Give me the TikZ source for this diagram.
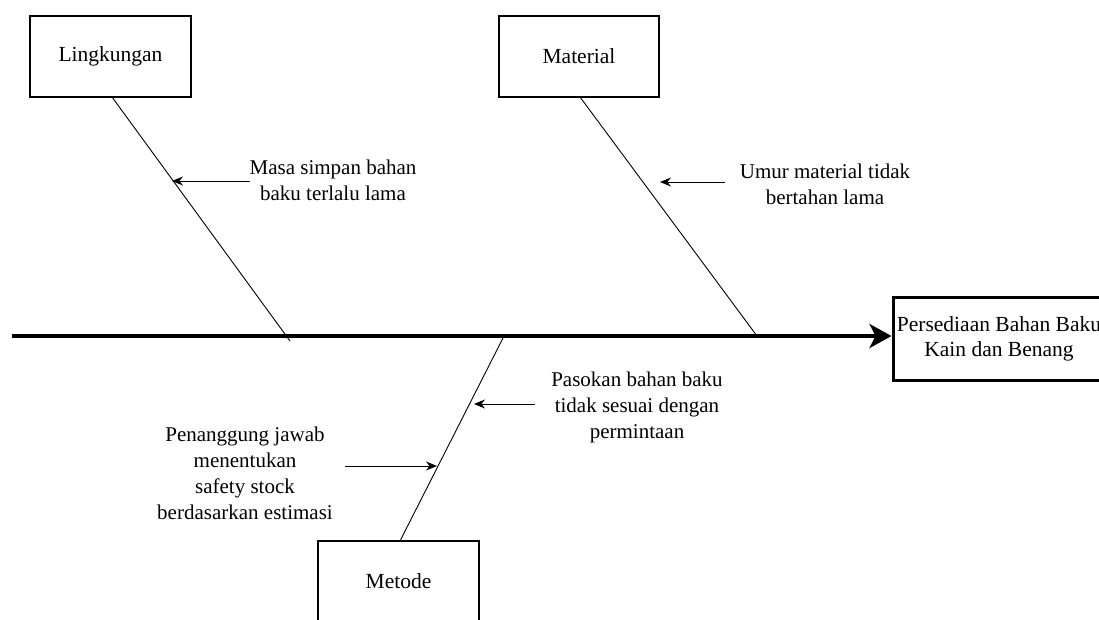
\documentclass[tikz,border=0pt]{standalone}
\usepackage{fontspec}
\setmainfont{Liberation Serif}
\usetikzlibrary{arrows.meta}
\begin{document}
\begin{tikzpicture}[x=1pt,y=-1pt,
  catbox/.style={draw,line width=2.6pt,minimum width=#1,minimum height=81pt,inner sep=0pt,font=\fontsize{21.5}{26}\selectfont},
  cause/.style={align=center,inner sep=0pt,font=\fontsize{21}{26}\selectfont},
  bone/.style={line width=0.9pt},
  pointer/.style={line width=0.9pt,-{Stealth[length=11pt,width=9pt]}}]
\useasboundingbox (0,0) rectangle (1099,619);
% category boxes
\node[catbox=161pt] (ling) at (110.5,56.5) {Lingkungan};
\node[catbox=160pt] (mat) at (579,56.5) {Material};
\node[catbox=161pt] (met) at (398.5,581.5) {Metode};
% effect box
\node[draw,line width=3pt,minimum width=212pt,minimum height=83pt,inner sep=0pt,align=center,
      font=\fontsize{21.5}{25}\selectfont] (head) at (999,338.5)
      {Persediaan Bahan Baku\\Kain dan Benang};
% spine
\coordinate (tail) at (12,336);
\draw[line width=4pt,-{Stealth[length=22pt,width=24pt,inset=6pt]}] (tail) -- (head.west |- tail);
% bones
\coordinate (lingEnd) at (290,341);
\coordinate (matEnd) at (757,336);
\coordinate (metEnd) at (503,338);
\draw[bone] (112,97) -- (lingEnd);
\draw[bone] (580,97) -- (matEnd);
\draw[bone] (400,541) -- (metEnd);
% causes
\node[cause] (c1) at (333,180.5) {Masa simpan bahan\\baku terlalu lama};
\node[cause] (c2) at (825,184) {Umur material tidak\\bertahan lama};
\node[cause] (c3) at (637,407.5) {Pasokan bahan baku\\tidak sesuai dengan\\permintaan};
\node[cause] (c4) at (245,473) {Penanggung jawab\\menentukan\\safety stock\\berdasarkan estimasi};
% pointers onto the bones
\coordinate (p1s) at (250,181); \coordinate (p1) at (172,181);
\coordinate (p2s) at (725,182); \coordinate (p2) at (660,182);
\coordinate (p3s) at (535,404); \coordinate (p3) at (474,404);
\coordinate (p4s) at (345,466); \coordinate (p4) at (437,466);
\draw[pointer] (p1s) -- (p1);
\draw[pointer] (p2s) -- (p2);
\draw[pointer] (p3s) -- (p3);
\draw[pointer] (p4s) -- (p4);
\end{tikzpicture}
\end{document}
